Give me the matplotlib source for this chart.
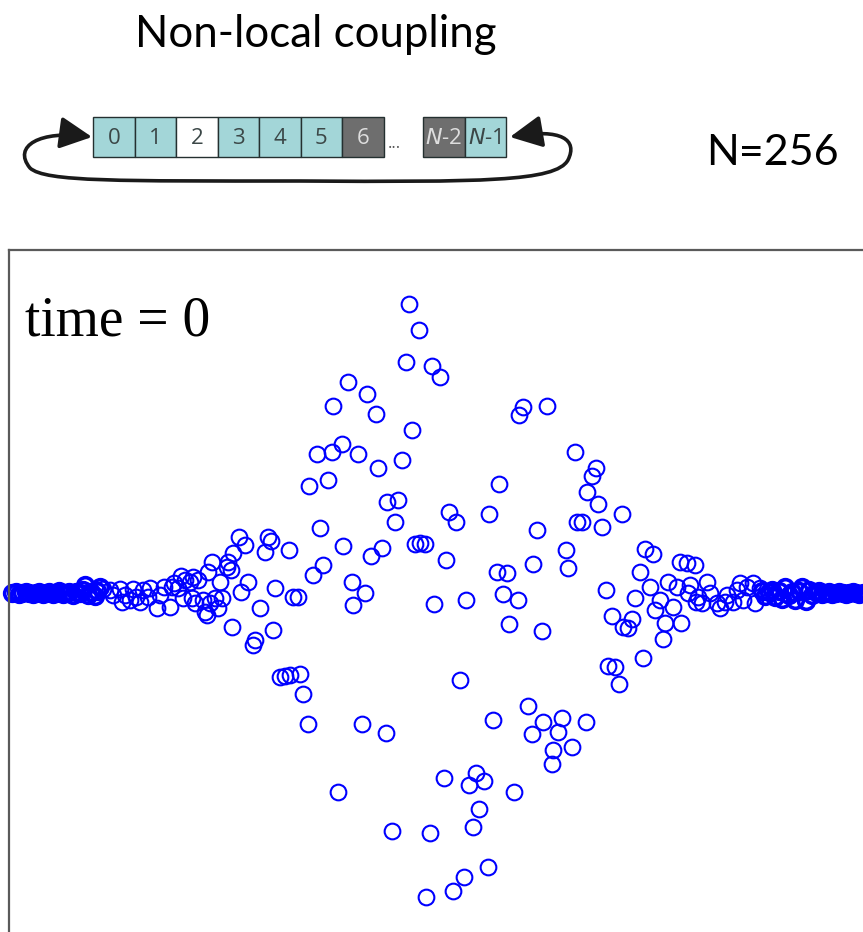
import matplotlib
matplotlib.use("Agg")
import matplotlib.pyplot as plt
from matplotlib.patches import Rectangle, FancyArrowPatch
from matplotlib.path import Path

# ---------------- data ----------------
# phase of each oscillator (node index along the ring) at time = 0, N = 256
left_tail_node = [2, 3, 4, 5, 6, 7, 8, 9, 10, 11, 12, 13, 14, 15, 16, 17, 18, 19, 20,
                  21, 22, 23, 23.6, 24.5, 25.5, 26.5, 27.3, 28.1]
left_tail_phase = [0.00, 0.01, -0.01, 0.00, 0.01, 0.00, -0.01, 0.00, 0.01, -0.01, 0.00,
                   0.01, -0.01, 0.00, 0.02, -0.01, 0.00, 0.01, -0.02, 0.01, 0.00, 0.03,
                   0.08, -0.02, 0.01, -0.03, 0.02, 0.06]

core_node = [29.0, 31.0, 32.0, 34.0, 34.5, 35.5, 37.0, 37.9, 38.9, 40.0, 40.9, 42.4, 42.9,
             44.9, 45.9, 47.0, 48.9, 49.4, 50.0, 51.4, 52.2, 52.9, 53.4, 54.9, 55.4, 55.8,
             56.2, 57.3, 58.8, 59.3, 59.8, 60.3, 60.8, 61.3, 62.3, 63.3, 63.8, 64.3, 65.8,
             66.2, 67.0, 67.3, 67.7, 69.5, 70.0, 71.2, 72.2, 73.7, 74.2, 75.7, 77.2, 78.2,
             78.9, 79.6, 80.1, 81.6, 83.1, 84.4, 84.6, 85.6, 87.1, 87.5, 88.6, 89.9, 90.3,
             91.5, 92.7, 93.4, 94.5, 95.8, 97.0, 97.5, 98.8, 100.0, 100.5, 101.8, 103.0,
             103.4, 104.7, 105.9, 106.9, 107.6, 108.7, 110.1, 110.7, 111.9, 113.1, 113.6,
             114.9, 115.9, 116.8, 117.8, 119.0, 120.1, 120.8, 121.8, 123.1, 123.3, 124.8,
             125.0, 126.2, 126.8, 127.5, 129.1, 130.3, 130.9, 132.0, 133.2, 133.9, 135.1,
             136.3, 136.9, 138.0, 139.1, 139.9, 140.9, 142.3, 143.4, 143.9, 145.1, 146.1,
             146.9, 148.1, 149.3, 149.9, 151.2, 152.4, 152.8, 154.0, 155.3, 156.5, 157.0,
             158.2, 159.5, 160.0, 161.2, 162.5, 162.9, 164.3, 165.4, 166.6, 167.2, 168.4,
             169.5, 169.9, 171.4, 172.6, 173.1, 174.4, 175.6, 176.2, 177.3, 178.5, 179.3,
             180.3, 181.3, 182.6, 183.3, 183.8, 185.3, 186.3, 187.3, 188.7, 189.7, 190.2,
             191.7, 192.7, 193.2, 194.7, 195.7, 196.2, 197.2, 198.5, 199.7, 200.6, 201.0,
             202.6, 203.1, 203.6, 205.1, 205.5, 206.1, 207.1, 208.6, 209.6, 211.6, 212.5,
             214.0, 214.5, 216.5, 217.5, 218.5, 219.5, 220.5, 222.5, 223.0, 224.4]
core_phase = [0.04, 0.03, -0.02, 0.04, -0.09, -0.02, -0.07, 0.04, -0.04, -0.09, 0.03, -0.04,
              0.05, -0.15, -0.02, 0.06, -0.14, 0.06, 0.10, 0.05, 0.17, -0.05, 0.13, 0.11,
              -0.05, 0.16, -0.10, 0.13, -0.07, -0.19, -0.22, 0.21, -0.10, 0.31, -0.05, -0.15,
              0.11, -0.05, 0.26, 0.31, 0.23, -0.34, 0.40, 0.56, 0.01, 0.48, 0.11, -0.52,
              -0.47, -0.15, 0.41, 0.56, 0.52, -0.37, 0.05, -0.84, -0.83, 0.43, -0.82, -0.04,
              -0.04, -0.81, -1.01, -1.31, 1.07, 0.18, 1.39, 0.65, 0.28, 1.13, 1.41, 1.87,
              -1.99, 1.49, 0.47, 2.11, 0.11, -0.12, 1.39, -1.31, 0.00, 1.99, 0.37, 1.79, 1.25,
              0.45, -1.40, 0.91, -2.38, 0.71, 0.93, 1.33, 2.31, 2.89, 1.63, 0.49, 2.63, 0.50,
              0.49, -3.04, -2.40, 2.27, -0.11, 2.16, -1.85, 0.33, 0.81, -2.98, 0.71, -0.87,
              -2.84, -0.07, -1.92, -2.34, -1.80, -2.16, -1.88, -2.74, 0.79, -1.27, 0.21, 1.09,
              -0.01, 0.20, -0.31, -1.99, -0.07, 1.78, 1.86, -1.13, -1.41, 0.29, 0.63, -0.38,
              -1.29, 1.87, -1.71, -1.57, -1.39, -1.25, 0.43, 0.25, -1.54, 1.41, 0.71, 0.71,
              -1.29, 1.01, 1.17, 1.25, 0.89, 0.66, 0.03, -0.73, -0.23, -0.74, -0.91, 0.79,
              -0.34, -0.35, -0.26, -0.05, 0.21, -0.65, 0.44, 0.06, 0.39, -0.17, -0.07, -0.46,
              -0.30, 0.11, -0.14, 0.06, 0.31, -0.30, 0.30, 0.00, 0.08, 0.28, -0.09, -0.04,
              -0.10, 0.11, 0.00, -0.10, -0.15, -0.09, -0.02, -0.09, 0.03, 0.10, -0.07, 0.06,
              0.10, -0.10, 0.05]

right_tail_node = list(range(225, 257))
right_tail_phase = [0.02, -0.03, 0.01, 0.03, -0.04, 0.02, -0.06, 0.06, -0.02, 0.01, -0.07,
                    0.02, 0.06, -0.08, 0.03, -0.02, 0.01, 0.02, -0.01, 0.00, 0.01, -0.01,
                    0.00, 0.01, 0.00, -0.01, 0.00, 0.01, 0.00, -0.01, 0.00, 0.00]

# ring schematic
cell_labels = ["0", "1", "2", "3", "4", "5", "6", "N-2", "N-1"]
cell_kinds = ["c", "c", "w", "c", "c", "c", "g", "g", "c"]

title_text = "Non-local coupling"
size_text = "N=256"
time_text = "time = 0"

# ---------------- figure ----------------
W, H = 863, 932
fig = plt.figure(figsize=(W / 100, H / 100), dpi=100)

# scatter axes (pixel-based placement)
ax_left, ax_right_px, ax_top = 9, 885, 250
ax = fig.add_axes([ax_left / W, 0, (ax_right_px - ax_left) / W, (H - ax_top) / H])
px_per_node = 3.361
ax.set_xlim(1, 1 + (ax_right_px - ax_left) / px_per_node)
ax.set_ylim((593 - H) / 100, (593 - ax_top) / 100)
ax.set_xticks([])
ax.set_yticks([])
for s in ["bottom", "right"]:
    ax.spines[s].set_visible(False)
for s in ["left", "top"]:
    ax.spines[s].set_color("#5a5a5a")
    ax.spines[s].set_linewidth(1.6)

for xs, ys, mew in [(left_tail_node, left_tail_phase, 2.6), (core_node, core_phase, 1.5),
                    (right_tail_node, right_tail_phase, 2.6)]:
    ax.plot(xs, ys, linestyle="none", marker="o", markersize=11.3,
            markerfacecolor="none", markeredgecolor="#0000ff", markeredgewidth=mew,
            clip_on=False)

# overlay in pixel coordinates for texts and schematic
ov = fig.add_axes([0, 0, 1, 1])
ov.set_xlim(0, W)
ov.set_ylim(H, 0)
ov.set_axis_off()

ov.text(316, 47, title_text, ha="center", va="baseline", fontsize=31.5, family="Lato")
ov.text(772, 165, size_text, ha="center", va="baseline", fontsize=31, family="Lato")
ov.text(25, 336, time_text, ha="left", va="baseline", fontsize=40,
        family="Liberation Serif")

fills = {"c": "#a3d6d8", "w": "#ffffff", "g": "#6e6e6e"}
tcol = {"c": "#3b4747", "w": "#3b4747", "g": "#dedede"}
cell_w, cell_top, cell_h = 41.5, 117, 40
x0 = 93
positions = [x0 + i * cell_w for i in range(7)] + [423, 423 + cell_w]
for lab, kind, xl in zip(cell_labels, cell_kinds, positions):
    ov.add_patch(Rectangle((xl, cell_top), cell_w, cell_h, facecolor=fills[kind],
                           edgecolor="#243030", linewidth=1.0))
    if lab.startswith("N"):
        txt = r"$\mathit{N}$" + "-" + lab[2:]
    else:
        txt = lab
    ov.text(xl + cell_w / 2, cell_top + cell_h / 2 + 1, txt, ha="center", va="center",
            fontsize=16, color=tcol[kind], family="Open Sans")
ov.text(394, 148, "...", ha="center", va="baseline", fontsize=12, color="#555555",
        family="Open Sans")

verts = [(92, 137),
         (40, 130), (12, 146), (30, 168),
         (45, 182), (120, 181), (300, 181),
         (480, 182), (556, 182), (568, 160),
         (578, 140), (562, 128), (510, 137)]
codes = [Path.MOVETO] + [Path.CURVE4] * 12
arrow = FancyArrowPatch(path=Path(verts, codes),
                        arrowstyle="<|-|>,head_length=1.4,head_width=0.7",
                        mutation_scale=14, linewidth=2.6, color="#1a1a1a")
ov.add_patch(arrow)

fig.savefig("out.png", dpi=100)
